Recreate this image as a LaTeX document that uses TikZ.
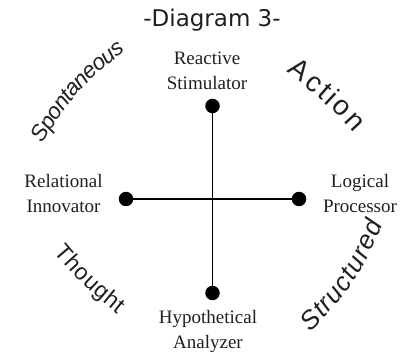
\documentclass[tikz,border=0pt]{standalone}
\usepackage{fontspec}
\setmainfont{Liberation Serif}
\newfontfamily\titlefont{DejaVu Sans}
\newfontfamily\wordfont{Liberation Sans}
\newcommand\spword{\wordfont\itshape\fontsize{22.5}{22.5}\selectfont}
\newcommand\acword{\wordfont\fontsize{28}{28}\selectfont}
\newcommand\thword{\wordfont\fontsize{23}{23}\selectfont}
\newcommand\stword{\wordfont\itshape\fontsize{26}{26}\selectfont}
\usetikzlibrary{decorations.text}
\begin{document}
\begin{tikzpicture}[x=1pt,y=1pt,
  lbl/.style={font=\fontsize{19}{25}\selectfont, align=center, inner sep=0pt, text=black!88},
  dotnode/.style={circle, fill=black, inner sep=0pt, minimum size=14.5pt},
  axis/.style={line width=1.3pt, black}]
\useasboundingbox (0,0) rectangle (412,351);
% title
\node[anchor=base, inner sep=0pt, font=\titlefont\fontsize{23}{23}\selectfont, text=black!88] (title) at (212,324) {-Diagram 3-};
% axes
\node[dotnode] (top) at (212.5,245) {};
\node[dotnode] (bot) at (212.5,58) {};
\node[dotnode] (left) at (126,152) {};
\node[dotnode] (right) at (299,152) {};
\draw[axis] (top) -- (bot);
\draw[axis] (left) -- (right);
% labels
\node[lbl] (rs) at (207,280) {Reactive\\Stimulator};
\node[lbl] (ri) at (63.5,157) {Relational\\Innovator};
\node[lbl] (lp) at (360,157) {Logical\\Processor};
\node[lbl] (ha) at (208,20) {Hypothetical\\Analyzer};
% curved words
\coordinate (sp1) at (43,207);  \coordinate (sp2) at (126,300);
\coordinate (ac1) at (286,279); \coordinate (ac2) at (354,218);
\coordinate (th1) at (54,99);   \coordinate (th2) at (118,37);
\coordinate (st1) at (310,19);  \coordinate (st2) at (383,127);
\path[decorate, decoration={text effects along path, text={Spontaneous},
  text effects/.cd, fit text to path, characters={text along path, font=\spword, text=black!88}}]
  (sp1) to[bend left=12] (sp2);
\path[decorate, decoration={text effects along path, text={Action},
  text effects/.cd, fit text to path, characters={text along path, font=\acword, text=black!88}}]
  (ac1) to[bend left=6] (ac2);
\path[decorate, decoration={text effects along path, text={Thought},
  text effects/.cd, fit text to path, characters={text along path, font=\thword, text=black!88}}]
  (th1) to[bend right=6] (th2);
\path[decorate, decoration={text effects along path, text={Structured},
  text effects/.cd, fit text to path, characters={text along path, font=\stword, text=black!88}}]
  (st1) to[bend right=12] (st2);
\end{tikzpicture}
\end{document}
